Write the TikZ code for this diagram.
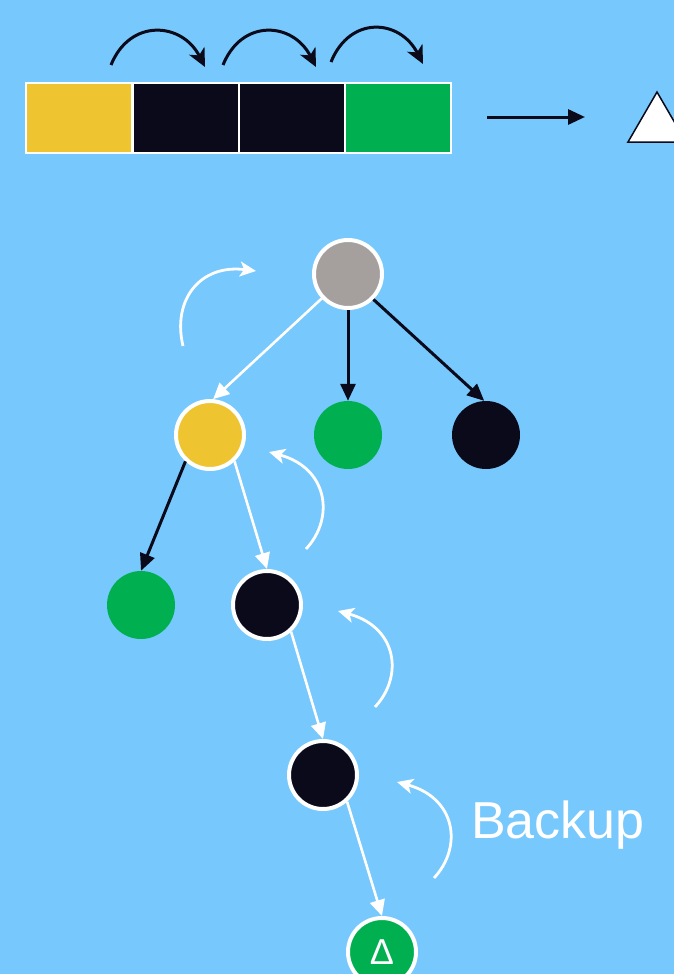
\documentclass[tikz,border=0pt]{standalone}
\usepackage{fontspec}
\setmainfont{Liberation Sans}
\usetikzlibrary{arrows.meta}
\definecolor{bg}{RGB}{118,200,253}
\definecolor{yel}{RGB}{238,196,49}
\definecolor{blk}{RGB}{10,10,26}
\definecolor{grn}{RGB}{0,176,80}
\definecolor{gry}{RGB}{165,160,158}
\tikzset{
  cell/.style={draw=white,line width=1.5pt,minimum width=106pt,minimum height=70pt,inner sep=0pt,anchor=north west},
  vtx/.style={circle,minimum size=68pt,inner sep=0pt},
  ring/.style={vtx,draw=white,line width=4pt},
  blackedge/.style={draw=blk,line width=3pt,-{Triangle[length=17pt,width=15pt]}},
  whiteedge/.style={draw=white,line width=2.6pt,-{Triangle[length=16pt,width=15pt]}},
  toparc/.style={draw=blk,line width=3pt,-{Stealth[length=18pt,width=17pt,inset=5pt]}},
  backarc/.style={draw=white,line width=2.8pt,-{Stealth[length=16pt,width=15pt,inset=4pt]}},
}
\begin{document}
\begin{tikzpicture}[x=1pt,y=-1pt]
\fill[bg] (0,0) rectangle (674,974);
\useasboundingbox (0,0) rectangle (674,974);
% array
\node[cell,fill=yel] (c1) at (25,82) {};
\node[cell,fill=blk] (c2) at (132,82) {};
\node[cell,fill=blk] (c3) at (238,82) {};
\node[cell,fill=grn] (c4) at (344,82) {};
% top arcs
\coordinate (a1s) at (111,65); \coordinate (a1e) at (205,67);
\coordinate (a2s) at (223,65); \coordinate (a2e) at (316,67);
\coordinate (a3s) at (331,62); \coordinate (a3e) at (423,64);
\draw[toparc] (a1s) .. controls (130,18) and (182,22) .. (a1e);
\draw[toparc] (a2s) .. controls (242,18) and (293,22) .. (a2e);
\draw[toparc] (a3s) .. controls (350,15) and (400,19) .. (a3e);
% right arrow and triangle
\coordinate (ra) at (487,117); \coordinate (rb) at (585,117);
\draw[blackedge] (ra) -- (rb);
\draw[fill=white,draw=blk,line width=1.5pt] (628,142) -- (657,92) -- (686,142) -- cycle;
% tree
\node[ring,fill=gry] (r) at (348,274) {};
\node[ring,fill=yel] (y) at (210,435) {};
\node[vtx,fill=grn] (g1) at (348,435) {};
\node[vtx,fill=blk] (b1) at (486,435) {};
\node[vtx,fill=grn] (g2) at (141,605) {};
\node[ring,fill=blk] (b2) at (267,605) {};
\node[ring,fill=blk] (b3) at (323,775) {};
\node[ring,fill=grn,text=white,font=\fontsize{36}{36}\selectfont] (g3) at (382,952) {Δ};
\draw[whiteedge] (r.223) -- (y.85);
\draw[blackedge] (r.270) -- (g1.90);
\draw[blackedge] (r.315) -- (b1.93);
\draw[blackedge] (y.227) -- (g2.90);
\draw[whiteedge] (y.313) -- (b2.90);
\draw[whiteedge] (b2.312) -- (b3.90);
\draw[whiteedge] (b3.312) -- (g3.90);
% backup arcs
\coordinate (k1s) at (183,346); \coordinate (k1e) at (256,271);
\coordinate (k2s) at (306,549); \coordinate (k2e) at (269,452);
\coordinate (k3s) at (375,707); \coordinate (k3e) at (338,611);
\coordinate (k4s) at (434,878); \coordinate (k4e) at (397,782);
\draw[backarc] (k1s) .. controls (172,300) and (200,264) .. (k1e);
\draw[backarc] (k2s) .. controls (335,518) and (328,468) .. (k2e);
\draw[backarc] (k3s) .. controls (404,676) and (397,627) .. (k3e);
\draw[backarc] (k4s) .. controls (463,847) and (456,798) .. (k4e);
\node[text=white,font=\fontsize{52}{52}\selectfont,anchor=base west,inner sep=0pt] (lbl) at (471,838) {Backup};
\end{tikzpicture}
\end{document}
